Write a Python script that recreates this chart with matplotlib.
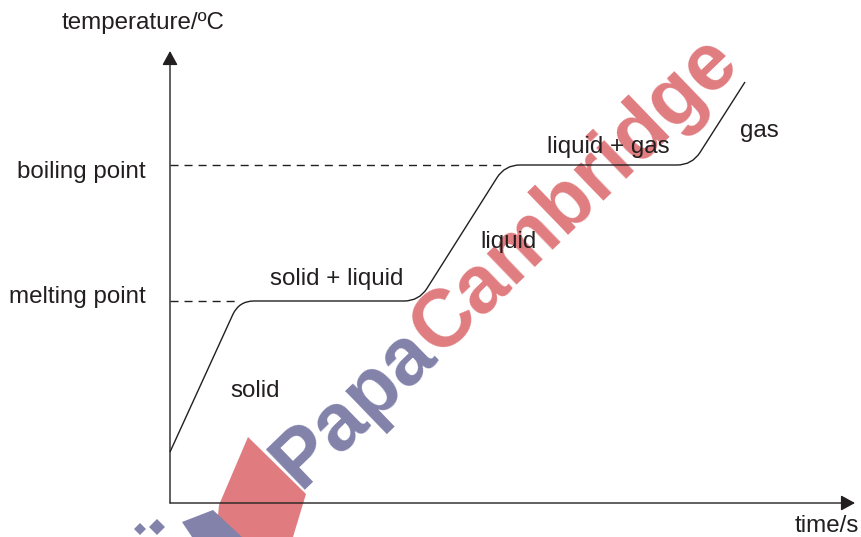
import numpy as np
import matplotlib
matplotlib.use("Agg")
import matplotlib.pyplot as plt
from matplotlib.path import Path
from matplotlib.patches import PathPatch, Polygon

# ---- data (time / temperature in arbitrary chart units) ----
time_pts = [0, 69, 249, 335, 522, 575]
temp_pts = [51, 202, 202, 338, 338, 421]
melting_point = 202
boiling_point = 338
melt_start = 69
boil_start = 335
phase_labels = ["solid", "solid + liquid", "liquid", "liquid + gas", "gas"]
phase_x = [60, 100, 310, 377, 570]
phase_y = [106, 218, 255, 350, 366]
y_labels = ["boiling point", "melting point"]
axis_labels = ["temperature/ºC", "time/s"]

INK = "#231f20"
FONT = "Liberation Sans"
FS = 17.4

W, H = 861, 537
fig = plt.figure(figsize=(W / 100, H / 100), dpi=100)

# watermark layer (pixel coords)
wm = fig.add_axes([0, 0, 1, 1], zorder=0)
wm.set_xlim(0, W)
wm.set_ylim(H, 0)
wm.axis("off")

BLUE = "#8282aa"
RED = "#e07c80"
wm.add_patch(Polygon([(248, 437), (306, 494), (293, 537), (216, 537), (219, 505)],
                     closed=True, facecolor=RED, edgecolor="none"))
wm.add_patch(Polygon([(182, 522), (213, 510), (242, 537), (192, 537)],
                     closed=True, facecolor=BLUE, edgecolor="none"))
for cx, cy, h in [(140, 529, 6), (157, 527, 8)]:
    wm.add_patch(Polygon([(cx - h, cy), (cx, cy - h), (cx + h, cy), (cx, cy + h)],
                         closed=True, facecolor=BLUE, edgecolor="none"))

ang = 44.0
wfs = 58
sx, sy = 300, 490
wm.text(sx, sy, "Papa", fontsize=wfs, fontweight="bold", family=FONT,
        color=BLUE, rotation=ang, rotation_mode="anchor",
        ha="left", va="baseline")
r = fig.canvas.get_renderer()
tmp = wm.text(0, 0, "Papa", fontsize=wfs, fontweight="bold", family=FONT)
wpx = tmp.get_window_extent(r).width
tmp.remove()
a = np.deg2rad(ang)
wm.text(sx + wpx * np.cos(a), sy - wpx * np.sin(a), "Cambridge", fontsize=wfs,
        fontweight="bold", family=FONT, color=RED, rotation=ang,
        rotation_mode="anchor", ha="left", va="baseline")

# main chart layer: data origin at pixel (170, 503)
ax = fig.add_axes([0, 0, 1, 1], zorder=1)
ax.patch.set_alpha(0)
ax.set_xlim(-170, W - 170)
ax.set_ylim(503 - H, 503)
ax.axis("off")

# rounded-corner heating curve
rad = 15.0
pts = np.column_stack([time_pts, temp_pts]).astype(float)
verts = [tuple(pts[0])]
codes = [Path.MOVETO]
for i in range(1, len(pts) - 1):
    p0, p1, p2 = pts[i - 1], pts[i], pts[i + 1]
    d1 = (p1 - p0) / np.linalg.norm(p1 - p0)
    d2 = (p2 - p1) / np.linalg.norm(p2 - p1)
    verts += [tuple(p1 - d1 * rad), tuple(p1), tuple(p1 + d2 * rad)]
    codes += [Path.LINETO, Path.CURVE3, Path.CURVE3]
verts.append(tuple(pts[-1]))
codes.append(Path.LINETO)
ax.add_patch(PathPatch(Path(verts, codes), facecolor="none", edgecolor=INK, lw=1.0))

# dashed guide lines
ax.plot([0, melt_start], [melting_point, melting_point], color=INK, lw=1.0,
        dashes=(5.8, 4.3))
ax.plot([0, boil_start], [boiling_point, boiling_point], color=INK, lw=1.0,
        dashes=(5.8, 4.3))

# axes with arrows
ap = dict(arrowstyle="-|>,head_length=0.86,head_width=0.47", mutation_scale=10,
          lw=1.0, color=INK, shrinkA=0, shrinkB=0)
ax.annotate("", xy=(0, 452), xytext=(0, 0), arrowprops=ap)
ax.annotate("", xy=(685, 0), xytext=(0, 0), arrowprops=ap)

tk = dict(fontsize=FS, family=FONT, color=INK, va="baseline")
ax.text(-108, 474, axis_labels[0], ha="left", **tk)
ax.text(625, -29, axis_labels[1], ha="left", **tk)
ax.text(-24, boiling_point - 13, y_labels[0], ha="right", **tk)
ax.text(-24, melting_point - 2, y_labels[1], ha="right", **tk)
for lab, x, y in zip(phase_labels, phase_x, phase_y):
    ax.text(x, y, lab, ha="left", **tk)

fig.savefig("out.png", dpi=100)
